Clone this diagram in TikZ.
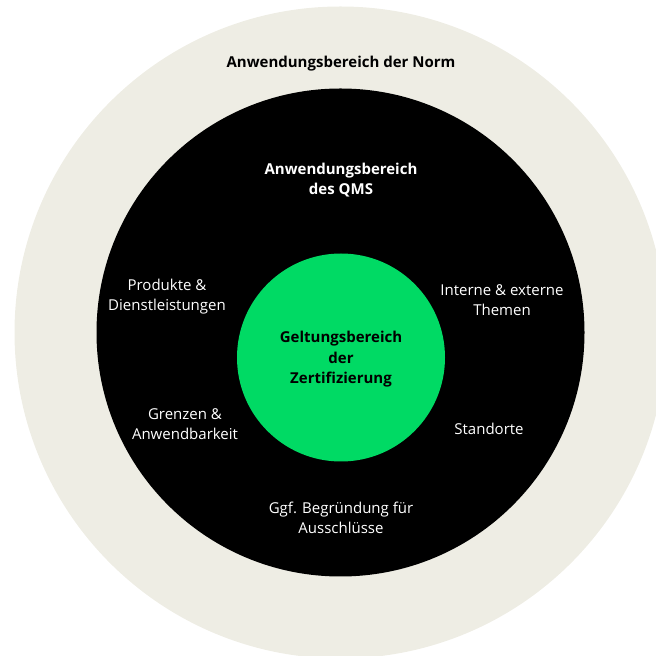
\documentclass[tikz,border=0pt]{standalone}
\usepackage{fontspec}
\setmainfont{Open Sans}
\usetikzlibrary{positioning}

\definecolor{normbg}{HTML}{EEEDE4}
\definecolor{certgreen}{HTML}{00DA64}

\tikzset{
	ring/.style = {circle, inner sep=0pt},
	label/.style = {align=center, inner sep=0pt, font=\fontsize{15}{20.5}\selectfont},
	title/.style = {label, font=\fontsize{15}{20.5}\selectfont\bfseries},
}

\begin{document}
\begin{tikzpicture}[x=1pt, y=1pt]

	\useasboundingbox (0,0) rectangle (656,656);
	\clip (0,0) rectangle (656,656);

	\node [ring, fill=normbg, minimum size=652pt] (norm) at (340.5,323.5) {};
	\node [ring, fill=black, minimum size=488pt] (qms) at (340.5,323.5) {};
	\node [ring, fill=certgreen, minimum size=208pt] (cert) at (341,298.5) {};

	\node [title, text=black] (normtext) at (341,592) {Anwendungsbereich der Norm};
	\node [title, text=white] (qmstext) at (341,476) {Anwendungsbereich\\des QMS};
	\node [title, text=black, yshift=-2pt] (certtext) at (cert) {Geltungsbereich\\der\\Zertifizierung};

	\node [label, text=white] (produkte) at (167,359.5) {Produkte \&\\Dienstleistungen};
	\node [label, text=white] (themen) at (502,356) {Interne \& externe\\Themen};
	\node [label, text=white] (grenzen) at (185,232) {Grenzen \&\\Anwendbarkeit};
	\node [label, text=white] (standorte) at (489,227) {Standorte};
	\node [label, text=white] (ausschluss) at (341,138) {Ggf. Begründung für\\Ausschlüsse};

\end{tikzpicture}
\end{document}
